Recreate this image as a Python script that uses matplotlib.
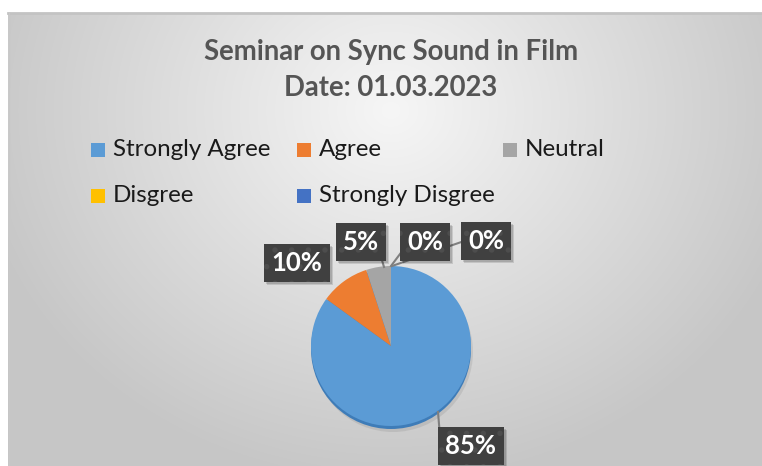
import numpy as np
import matplotlib.pyplot as plt
from matplotlib.patches import Rectangle, Circle

plt.rcParams['font.family'] = ['Lato', 'DejaVu Sans']
plt.rcParams['hatch.linewidth'] = 1.5

# survey responses
categories = ['Strongly Agree', 'Agree', 'Neutral', 'Disgree', 'Strongly Disgree']
percent = [85, 10, 5, 0, 0]
colors = ['#5B9BD5', '#ED7D31', '#A5A5A5', '#FFC000', '#4472C4']
title_lines = ['Seminar on Sync Sound in Film', 'Date: 01.03.2023']

W, H = 762, 466


def py(y):
    # pixel rows counted from the top
    return H - y


fig = plt.figure(figsize=(W / 100, H / 100), dpi=100, facecolor='white')
ax = fig.add_axes([0, 0, 1, 1])

# radial grey backdrop of the chart area
gx, gy = np.meshgrid(np.linspace(8, W, 400), np.linspace(13, H, 250))
r = np.sqrt(((gx - 391) / 430) ** 2 + ((gy - 110) / 380) ** 2)
shade = np.clip(0.965 - 0.19 * r, 0.78, 1)
ax.imshow(np.dstack([shade] * 3), extent=(8, W, py(H), py(13)), origin='upper',
          aspect='auto', zorder=0, interpolation='bilinear')
ax.plot([8, W], [py(13), py(13)], color='#c3c3c3', lw=2, zorder=1)
ax.plot([8.5, 8.5], [py(13), 0], color='#c8c8c8', lw=1, zorder=1)

# title
ax.text(391, py(52), title_lines[0], ha='center', va='center', fontsize=19.8,
        fontweight='bold', color='#555555', zorder=3)
ax.text(391, py(88), title_lines[1], ha='center', va='center', fontsize=19.8,
        fontweight='bold', color='#555555', zorder=3)

# legend, three columns
leg_x = [91, 297, 503]
leg_y = [150, 196]
for i, (name, c) in enumerate(zip(categories, colors)):
    x0 = leg_x[i % 3]
    y0 = leg_y[i // 3]
    ax.add_patch(Rectangle((x0, py(y0) - 7), 14, 14, facecolor=c, edgecolor='none', zorder=3))
    ax.text(x0 + 22, py(y0), name, ha='left', va='center', fontsize=17.4,
            color='#1a1a1a', zorder=3)

# pie with a little depth underneath
cx, cy, R = 391, 346, 80
ax.add_patch(Circle((cx + 2, py(cy) - 6), R, facecolor='#000000', alpha=0.08, zorder=2))
ax.add_patch(Circle((cx, py(cy) - 3), R, facecolor='#3e7cb8', edgecolor='none', zorder=2))
wedges, _ = ax.pie(percent, colors=colors, startangle=90, counterclock=False,
                   center=(cx, py(cy)), radius=R,
                   wedgeprops=dict(edgecolor='none'))
for w in wedges:
    w.set_zorder(3)

ax.set_xlim(0, W)
ax.set_ylim(0, H)
ax.set_aspect('auto')
ax.axis('off')

# data labels: box centre and leader line end on the pie
label_pos = [(471, 446), (297, 263), (361, 242), (425, 242), (486, 241)]
leader_to = [(438, 412), None, (384, 267), (391, 266), (392, 266)]
leader_from = [(440, 436), None, (381, 257), (406, 246), (470, 239)]
labels = []
for v, pos, a, b in zip(percent, label_pos, leader_to, leader_from):
    if a is not None:
        ax.plot([a[0], b[0]], [py(a[1]), py(b[1])], color='#7f7f7f', lw=1.5, zorder=4)
    t = ax.text(pos[0], py(pos[1]), f'{v}%', ha='center', va='center',
                fontsize=18.5, fontweight='bold', color='white', zorder=5,
                bbox=dict(boxstyle='square,pad=0.28', facecolor='#404040',
                          edgecolor='#4d4d4d', hatch='.', lw=0))
    labels.append(t)

# soft drop shadow behind each label box (axes units are pixels here)
fig.canvas.draw()
for t in labels:
    bb = t.get_bbox_patch().get_window_extent()
    for k, al in [(3, 0.12), (2, 0.14)]:
        ax.add_patch(Rectangle((bb.x0 + k, bb.y0 - k), bb.width, bb.height,
                               facecolor='black', edgecolor='none', alpha=al, zorder=4.5))

fig.savefig('out.png', dpi=100, facecolor='white')
